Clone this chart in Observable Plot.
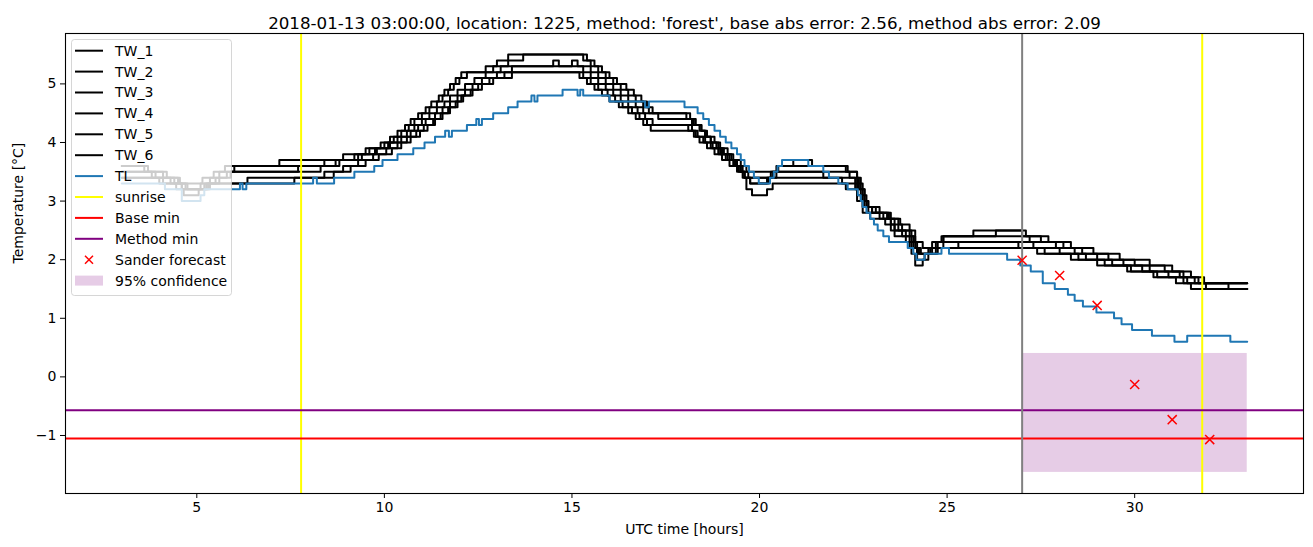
<!DOCTYPE html>
<html><head><meta charset="utf-8">
<script src="https://cdn.jsdelivr.net/npm/d3@7"></script>
<script src="https://cdn.jsdelivr.net/npm/@observablehq/plot@0.6"></script>
<style>body{margin:0;background:#fff;} #chart{width:1313px;height:547px;}</style>
</head><body><div id="chart"></div>
<script>
const TITLE = "2018-01-13 03:00:00, location: 1225, method: 'forest', base abs error: 2.56, method abs error: 2.09";
const X_LABEL = "UTC time [hours]";
const Y_LABEL = "Temperature [°C]";
const xTicks = [5, 10, 15, 20, 25, 30];
const yTicks = [-1, 0, 1, 2, 3, 4, 5];

// step-change points [hour, °C]: value holds until next point
const TW_1 = [[3,3.6],[3.6,3.5],[4.1,3.4],[4.5,3.3],[5.15,3.4],[5.45,3.5],[5.75,3.6],[7.2,3.7],[8.9,3.8],[9.5,3.9],[9.9,4.0],[10.15,4.1],[10.35,4.2],[10.55,4.3],[10.7,4.4],[10.9,4.5],[11.1,4.6],[11.25,4.7],[11.45,4.8],[11.6,4.9],[11.75,5.0],[11.9,5.1],[12.05,5.2],[12.7,5.3],[13.0,5.4],[13.3,5.5],[15.3,5.4],[15.5,5.3],[15.7,5.2],[15.9,5.1],[16.1,5.0],[16.3,4.9],[16.5,4.8],[16.7,4.7],[16.9,4.6],[17.05,4.5],[18.05,4.4],[18.25,4.3],[18.45,4.2],[18.6,4.1],[18.8,4.0],[18.95,3.9],[19.15,3.8],[19.3,3.7],[19.5,3.6],[19.65,3.5],[20.45,3.6],[22.3,3.5],[22.6,3.4],[22.7,3.2],[22.8,3.0],[22.9,2.9],[23.1,2.8],[23.45,2.7],[23.75,2.6],[24.0,2.5],[24.15,2.3],[24.35,2.2],[24.6,2.3],[24.85,2.4],[25.7,2.5],[27.1,2.4],[27.7,2.3],[28.3,2.2],[28.9,2.1],[29.6,2.0],[30.4,1.9],[31.0,1.8],[31.5,1.7],[31.85,1.6],[33,1.6]];
const TW_2 = [[3,3.6],[3.7,3.5],[4.2,3.4],[4.55,3.3],[4.75,3.2],[5.1,3.3],[5.35,3.4],[5.6,3.5],[6.0,3.6],[8.4,3.7],[9.2,3.8],[9.6,3.9],[10.0,4.0],[10.25,4.1],[10.45,4.2],[10.65,4.3],[10.8,4.4],[11.0,4.5],[11.2,4.6],[11.4,4.7],[11.55,4.8],[11.7,4.9],[11.85,5.0],[12.0,5.1],[12.2,5.2],[12.9,5.3],[13.3,5.4],[13.7,5.5],[15.4,5.4],[15.6,5.3],[15.8,5.2],[16.0,5.1],[16.2,5.0],[16.45,4.9],[16.65,4.8],[16.85,4.7],[17.0,4.6],[17.15,4.5],[17.3,4.4],[18.2,4.3],[18.4,4.2],[18.55,4.1],[18.7,4.0],[18.9,3.9],[19.05,3.8],[19.25,3.7],[19.4,3.6],[19.55,3.5],[19.7,3.4],[20.3,3.5],[20.5,3.6],[20.9,3.7],[21.4,3.6],[22.35,3.5],[22.6,3.3],[22.75,3.1],[22.85,2.9],[23.0,2.8],[23.4,2.7],[23.7,2.5],[24.0,2.4],[24.15,2.2],[24.3,2.1],[24.55,2.2],[24.75,2.3],[24.9,2.4],[26.3,2.5],[27.0,2.4],[27.5,2.3],[28.1,2.2],[28.6,2.1],[29.3,2.0],[30.0,1.9],[30.8,1.8],[31.3,1.7],[31.7,1.6],[32.5,1.5],[33,1.5]];
const TW_3 = [[3,3.5],[3.8,3.4],[4.3,3.3],[4.6,3.2],[5.2,3.3],[5.5,3.4],[5.8,3.5],[7.7,3.6],[8.8,3.7],[9.4,3.8],[9.75,3.9],[10.1,4.0],[10.35,4.1],[10.6,4.2],[10.8,4.3],[11.0,4.4],[11.2,4.5],[11.4,4.6],[11.6,4.7],[11.75,4.8],[11.95,4.9],[12.15,5.0],[12.4,5.1],[12.7,5.2],[13.1,5.3],[14.5,5.4],[14.65,5.3],[15.0,5.4],[15.15,5.3],[15.5,5.2],[15.7,5.1],[15.9,5.0],[16.1,4.9],[16.3,4.8],[16.5,4.7],[16.7,4.6],[16.9,4.5],[18.15,4.4],[18.3,4.3],[18.45,4.2],[18.55,4.1],[18.7,4.0],[18.85,3.9],[19.0,3.8],[19.2,3.7],[19.35,3.6],[19.5,3.5],[19.6,3.4],[19.75,3.3],[20.25,3.4],[20.45,3.5],[22.4,3.4],[22.65,3.2],[22.8,3.0],[22.9,2.9],[23.2,2.8],[23.5,2.6],[23.8,2.5],[24.05,2.3],[24.2,2.1],[24.5,2.2],[24.7,2.3],[24.9,2.4],[27.2,2.3],[27.9,2.2],[28.4,2.1],[29.0,2.0],[29.7,1.9],[30.4,1.8],[31.2,1.7],[31.6,1.6],[33,1.6]];
const TW_4 = [[3,3.5],[3.9,3.4],[4.4,3.3],[4.7,3.2],[5.25,3.3],[5.6,3.4],[5.9,3.5],[8.3,3.6],[8.7,3.7],[9.3,3.8],[9.8,3.9],[10.15,4.0],[10.45,4.1],[10.7,4.2],[10.9,4.3],[11.1,4.4],[11.35,4.5],[11.55,4.6],[11.75,4.7],[11.95,4.8],[12.15,4.9],[12.35,5.0],[12.6,5.1],[13.0,5.2],[13.4,5.3],[15.3,5.2],[15.5,5.1],[15.7,5.0],[15.9,4.9],[16.1,4.8],[16.3,4.7],[16.5,4.6],[16.75,4.5],[16.95,4.4],[17.15,4.3],[18.2,4.2],[18.35,4.1],[18.55,4.0],[18.75,3.9],[18.95,3.8],[19.15,3.7],[19.35,3.6],[19.5,3.5],[19.6,3.4],[20.35,3.5],[21.7,3.4],[22.55,3.2],[22.7,3.0],[22.8,2.9],[23.0,2.8],[23.3,2.7],[23.6,2.5],[23.9,2.4],[24.1,2.2],[24.25,2.1],[24.6,2.2],[25.3,2.3],[27.3,2.2],[28.0,2.1],[28.7,2.0],[29.4,1.9],[30.2,1.8],[30.9,1.7],[31.4,1.6],[31.9,1.5],[33,1.5]];
const TW_5 = [[3,3.4],[4.0,3.3],[4.45,3.2],[4.65,3.1],[5.05,3.2],[5.35,3.3],[6.35,3.4],[8.4,3.5],[8.9,3.6],[9.3,3.7],[9.7,3.8],[10.05,3.9],[10.35,4.0],[10.6,4.1],[10.85,4.2],[11.05,4.3],[11.3,4.4],[11.5,4.5],[11.7,4.6],[11.9,4.7],[12.1,4.8],[12.35,4.9],[12.6,5.0],[12.9,5.1],[13.4,5.2],[15.2,5.1],[15.4,5.0],[15.6,4.9],[15.8,4.8],[16.0,4.7],[16.25,4.6],[16.5,4.5],[16.7,4.4],[16.9,4.3],[17.1,4.2],[18.25,4.1],[18.4,4.0],[18.6,3.9],[18.8,3.8],[19.0,3.7],[19.2,3.6],[19.4,3.5],[19.55,3.4],[19.65,3.2],[19.8,3.1],[20.2,3.2],[20.35,3.3],[22.3,3.2],[22.6,3.0],[22.75,2.8],[22.95,2.7],[23.35,2.6],[23.6,2.4],[23.9,2.3],[24.05,2.1],[24.15,1.9],[24.35,2.0],[24.5,2.1],[24.75,2.2],[27.4,2.1],[28.3,2.0],[29.0,1.9],[29.8,1.8],[30.5,1.7],[31.1,1.6],[31.5,1.5],[33,1.5]];
const TW_6 = [[3,3.4],[4.1,3.3],[4.6,3.2],[5.3,3.3],[7.6,3.4],[8.65,3.5],[9.1,3.6],[9.5,3.7],[9.85,3.8],[10.2,3.9],[10.45,4.0],[10.7,4.1],[10.95,4.2],[11.15,4.3],[11.35,4.4],[11.55,4.5],[11.75,4.6],[11.95,4.7],[12.05,4.8],[12.3,4.9],[12.5,5.0],[12.8,5.1],[13.2,5.2],[15.3,5.1],[15.5,5.0],[15.7,4.9],[15.95,4.8],[16.15,4.7],[16.35,4.6],[16.6,4.5],[16.8,4.4],[17.0,4.3],[18.1,4.2],[18.3,4.1],[18.5,4.0],[18.7,3.9],[18.9,3.8],[19.1,3.7],[19.3,3.6],[19.45,3.5],[19.6,3.4],[19.75,3.3],[20.2,3.4],[22.2,3.3],[22.6,3.1],[22.75,2.9],[22.9,2.8],[23.2,2.7],[23.5,2.5],[23.8,2.4],[24.0,2.2],[24.2,2.0],[24.4,2.1],[24.7,2.2],[24.9,2.3],[26.9,2.2],[27.6,2.1],[28.5,2.0],[29.2,1.9],[29.9,1.8],[30.6,1.7],[31.3,1.6],[33,1.6]];
const TL = [[3.0,3.3],[4.15,3.2],[4.6,3.0],[5.1,3.1],[5.2,3.2],[6.15,3.3],[6.22,3.2],[6.32,3.3],[8.1,3.4],[8.2,3.3],[8.66,3.4],[9.2,3.5],[9.73,3.6],[9.95,3.7],[10.35,3.8],[10.77,3.9],[11.07,4.0],[11.35,4.1],[11.62,4.2],[11.72,4.1],[11.8,4.2],[12.2,4.3],[12.45,4.4],[12.52,4.3],[12.6,4.4],[12.9,4.5],[13.3,4.6],[13.55,4.7],[13.92,4.8],[14.0,4.7],[14.08,4.8],[14.75,4.9],[15.15,4.8],[15.22,4.9],[15.3,4.8],[16.0,4.7],[16.95,4.6],[17.05,4.7],[18.0,4.6],[18.35,4.5],[18.5,4.4],[18.65,4.3],[18.8,4.2],[18.95,4.1],[19.1,4.0],[19.25,3.9],[19.4,3.8],[19.5,3.7],[19.6,3.6],[19.72,3.5],[19.85,3.4],[19.98,3.3],[20.28,3.4],[20.38,3.5],[20.48,3.6],[20.6,3.7],[21.3,3.6],[21.7,3.5],[21.85,3.4],[22.1,3.3],[22.35,3.2],[22.62,3.1],[22.7,3.0],[22.75,2.9],[22.85,2.8],[22.95,2.7],[23.05,2.6],[23.15,2.5],[23.3,2.4],[23.45,2.3],[23.95,2.2],[24.1,2.1],[24.18,2.0],[24.4,2.1],[24.85,2.2],[25.05,2.1],[26.6,2.0],[26.95,1.9],[27.23,1.8],[27.55,1.6],[27.87,1.5],[28.22,1.4],[28.4,1.3],[28.62,1.2],[28.98,1.1],[29.45,1.0],[29.65,0.9],[29.93,0.8],[30.46,0.7],[31.06,0.6],[31.4,0.7],[32.55,0.6],[33,0.6]];

const sunriseHours = [7.78, 31.8];
const forecastHour = 27;
const baseMin = -1.05;
const methodMin = -0.57;
const sanderHours = [27, 28, 29, 30, 31, 32];
const sanderValues = [1.99, 1.73, 1.22, -0.13, -0.73, -1.07];
const confStart = 27, confEnd = 33;
const confLow = -1.63, confHigh = 0.40;

const twSeries = [TW_1, TW_2, TW_3, TW_4, TW_5, TW_6];
const sander = sanderHours.map((h, i) => ({h, v: sanderValues[i]}));

const lineMark = (pts, color) => Plot.line(pts, {x: d => d[0], y: d => d[1], stroke: color, strokeWidth: 2, curve: "step-after"});

const svg = Plot.plot({
  width: 1313, height: 547,
  marginLeft: 65, marginRight: 10, marginTop: 33, marginBottom: 54,
  style: {fontFamily: "DejaVu Sans", fontSize: "14px", background: "white", color: "black", overflow: "visible"},
  x: {domain: [1.5, 34.5]},
  y: {domain: [-1.99, 5.86]},
  marks: [
    Plot.rect([{x1: confStart, x2: confEnd, y1: confLow, y2: confHigh}], {x1: "x1", x2: "x2", y1: "y1", y2: "y2", fill: "purple", fillOpacity: 0.2}),
    ...twSeries.map(s => lineMark(s, "black")),
    lineMark(TL, "#1f77b4"),
    Plot.ruleX(sunriseHours, {stroke: "#ffff00", strokeWidth: 2}),
    Plot.ruleY([baseMin], {stroke: "red", strokeWidth: 2}),
    Plot.ruleY([methodMin], {stroke: "purple", strokeWidth: 2}),
    Plot.ruleX([forecastHour], {stroke: "gray", strokeWidth: 2}),
    Plot.dot(sander, {x: "h", y: "v", symbol: "times", r: 4.2, stroke: "red", strokeWidth: 1.5}),
    Plot.frame({stroke: "black", strokeWidth: 1.1}),
    Plot.axisX({ticks: xTicks, tickSize: 5, tickPadding: 4, label: null, tickFormat: d => String(d)}),
    Plot.axisY({ticks: yTicks, tickSize: 5, tickPadding: 4, label: null}),
    Plot.text([TITLE], {frameAnchor: "top", dy: -16, text: d => d, fontSize: 16.7}),
    Plot.text([X_LABEL], {frameAnchor: "bottom", dy: 40, text: d => d, fontSize: 14}),
    Plot.text([Y_LABEL], {frameAnchor: "left", dx: -47, rotate: -90, text: d => d, fontSize: 14})
  ]
});
document.getElementById("chart").appendChild(svg);

// legend (matplotlib style, upper left, semi-transparent)
const legendItems = [
  {label: "TW_1", type: "line", color: "black"},
  {label: "TW_2", type: "line", color: "black"},
  {label: "TW_3", type: "line", color: "black"},
  {label: "TW_4", type: "line", color: "black"},
  {label: "TW_5", type: "line", color: "black"},
  {label: "TW_6", type: "line", color: "black"},
  {label: "TL", type: "line", color: "#1f77b4"},
  {label: "sunrise", type: "line", color: "#ffff00"},
  {label: "Base min", type: "line", color: "red"},
  {label: "Method min", type: "line", color: "purple"},
  {label: "Sander forecast", type: "x", color: "red"},
  {label: "95% confidence", type: "patch", color: "purple"}
];
const lg = d3.select(svg).append("g").attr("font-family", "DejaVu Sans").attr("font-size", 14).attr("text-anchor", "start");
lg.append("rect").attr("x", 71.5).attr("y", 39.5).attr("width", 160).attr("height", 256).attr("rx", 3)
  .attr("fill", "white").attr("fill-opacity", 0.8).attr("stroke", "#cccccc").attr("stroke-opacity", 0.8);
legendItems.forEach((it, i) => {
  const cy = 50.7 + 20.9 * i;
  if (it.type === "line") {
    lg.append("line").attr("x1", 75).attr("x2", 103).attr("y1", cy).attr("y2", cy).attr("stroke", it.color).attr("stroke-width", 2);
  } else if (it.type === "x") {
    const cx = 89, s = 4;
    lg.append("path").attr("d", `M${cx - s},${cy - s}L${cx + s},${cy + s}M${cx - s},${cy + s}L${cx + s},${cy - s}`).attr("stroke", it.color).attr("stroke-width", 1.5).attr("fill", "none");
  } else {
    lg.append("rect").attr("x", 75).attr("y", cy - 5).attr("width", 28).attr("height", 10).attr("fill", it.color).attr("fill-opacity", 0.2);
  }
  lg.append("text").attr("x", 115).attr("y", cy).attr("dy", "0.35em").attr("text-anchor", "start").attr("fill", "black").text(it.label);
});
</script>
</body></html>
